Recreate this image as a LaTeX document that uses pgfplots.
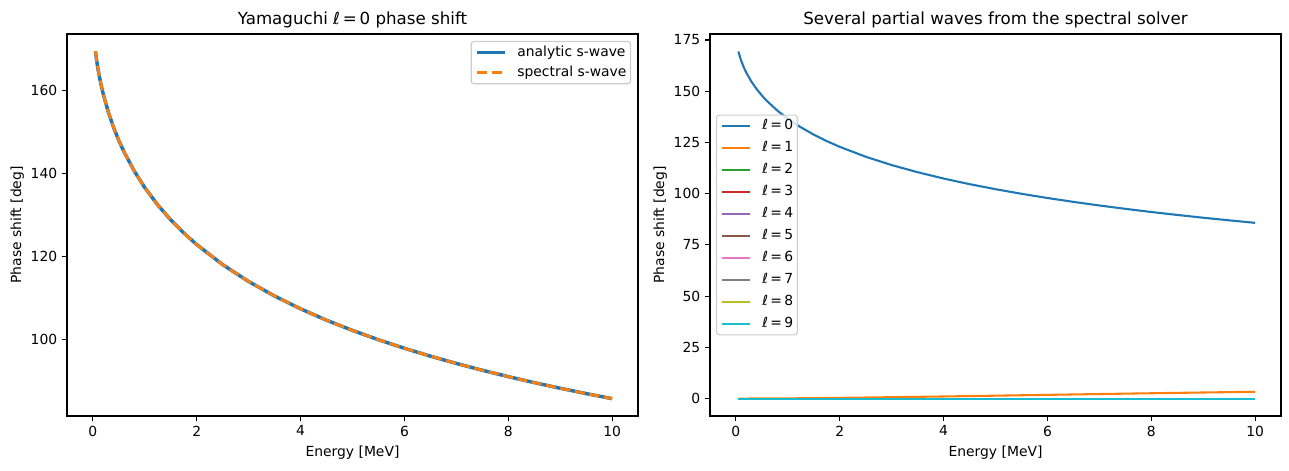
\documentclass[border=0pt]{standalone}
\usepackage{pgfplots}
\pgfplotsset{compat=1.18}
\usepackage{pgfplotstable}
\usepackage{fontspec}
\setmainfont{DejaVu Sans}

% tab10 palette
\definecolor{c0}{HTML}{1F77B4}
\definecolor{c1}{HTML}{FF7F0E}
\definecolor{c2}{HTML}{2CA02C}
\definecolor{c3}{HTML}{D62728}
\definecolor{c4}{HTML}{9467BD}
\definecolor{c5}{HTML}{8C564B}
\definecolor{c6}{HTML}{E377C2}
\definecolor{c7}{HTML}{7F7F7F}
\definecolor{c8}{HTML}{BCBD22}
\definecolor{c9}{HTML}{17BECF}
\definecolor{frame}{HTML}{CCCCCC}

% s-wave phase shift (deg) versus energy (MeV)
\pgfplotstableread{
E delta
0.05 169.38
0.07 167.46
0.10 165.07
0.15 161.81
0.20 159.10
0.30 154.67
0.40 151.04
0.50 147.92
0.60 145.19
0.80 140.50
1.00 136.57
1.25 132.39
1.50 128.80
1.75 125.65
2.00 122.85
2.50 118.02
3.00 113.95
3.50 110.46
4.00 107.38
4.50 104.64
5.00 102.18
5.50 99.93
6.00 97.88
6.50 95.98
7.00 94.23
7.50 92.59
8.00 91.05
8.50 89.61
9.00 88.25
9.50 86.97
10.00 85.75
}\swave

% p-wave phase shift (deg)
\pgfplotstableread{
E delta
0.05 0.00
1.00 0.10
2.00 0.35
3.00 0.68
4.00 1.03
5.00 1.42
6.00 1.82
7.00 2.22
8.00 2.60
9.00 2.97
10.00 3.32
}\pwave

% higher partial waves (deg)
\pgfplotstableread{
E delta
0.05 0.00
10.00 0.00
}\flat

\pgfplotstableread{
E delta
0.05 -0.25
10.00 -0.25
}\flatlow

\newcommand{\lval}[1]{{\itshape ℓ}\,=\,#1}

\pgfplotsset{
  mpl/.style={
    scale only axis,
    axis line style={line width=0.8pt},
    tick align=outside,
    xtick pos=left, ytick pos=left,
    major tick length=3.5pt,
    tick style={black, line width=0.8pt},
    tick label style={font=\fontsize{10}{12}\selectfont},
    /pgf/number format/assume math mode=true,
    label style={font=\fontsize{10}{12}\selectfont},
    ylabel style={yshift=-2pt},
    title style={font=\fontsize{12}{14}\selectfont, yshift=-5pt},
    xlabel={Energy [MeV]},
    ylabel={Phase shift [deg]},
    xmin=-0.4975, xmax=10.4975,
    xtick={0,2,...,10},
    legend cell align=left,
    legend style={
      font=\fontsize{10}{12}\selectfont,
      draw=frame, line width=0.8pt, rounded corners=2pt,
      fill=white, fill opacity=0.8, text opacity=1, draw opacity=1,
      inner xsep=3pt, inner ysep=3pt,
      row sep=5.8pt,
      nodes={inner sep=0pt, text height=7.6pt, text depth=2.4pt},
    },
    legend image code/.code={
      \path[draw=none, fill=none] (0pt,-4pt) rectangle (30pt,4pt);
      \draw[#1, sharp corners] (1pt,0pt) -- (21pt,0pt);
    },
  },
}

\begin{document}
\begin{tikzpicture}
\path[use as bounding box] (0,0) rectangle (928.08pt,338.4pt);

\begin{axis}[mpl,
  at={(48.24pt,38.88pt)}, anchor=south west,
  width=411.12pt, height=275.04pt,
  ymin=81.57, ymax=173.56,
  ytick={100,120,140,160},
  title={Yamaguchi \lval{0} phase shift},
  legend style={at={(0.988,0.982)}, anchor=north east, row sep=4.5pt},
]
\addplot[c0, line width=2.5pt] table[x=E, y=delta] {\swave};
\addlegendentry{analytic s-wave}
\addplot[c1, line width=2pt, dash pattern=on 7.4pt off 3.2pt] table[x=E, y=delta] {\swave};
\addlegendentry{spectral s-wave}
\end{axis}

\begin{axis}[mpl,
  at={(511.2pt,38.88pt)}, anchor=south west,
  width=411.12pt, height=275.04pt,
  ymin=-8.5, ymax=177.9,
  ytick={0,25,...,175},
  title={Several partial waves from the spectral solver},
  legend style={at={(0.0105,0.5)}, anchor=west},
  every axis plot/.append style={line width=1.5pt},
]
\addplot[c0] table[x=E, y=delta] {\swave};
\addlegendentry{\lval{0}}
\addplot[c1] table[x=E, y=delta] {\pwave};
\addlegendentry{\lval{1}}
\addplot[c2] table[x=E, y=delta] {\flat};
\addlegendentry{\lval{2}}
\addplot[c3] table[x=E, y=delta] {\flat};
\addlegendentry{\lval{3}}
\addplot[c4] table[x=E, y=delta] {\flat};
\addlegendentry{\lval{4}}
\addplot[c5] table[x=E, y=delta] {\flatlow};
\addlegendentry{\lval{5}}
\addplot[c6] table[x=E, y=delta] {\flat};
\addlegendentry{\lval{6}}
\addplot[c7] table[x=E, y=delta] {\flat};
\addlegendentry{\lval{7}}
\addplot[c8] table[x=E, y=delta] {\flat};
\addlegendentry{\lval{8}}
\addplot[c9] table[x=E, y=delta] {\flat};
\addlegendentry{\lval{9}}
\end{axis}
\end{tikzpicture}
\end{document}
